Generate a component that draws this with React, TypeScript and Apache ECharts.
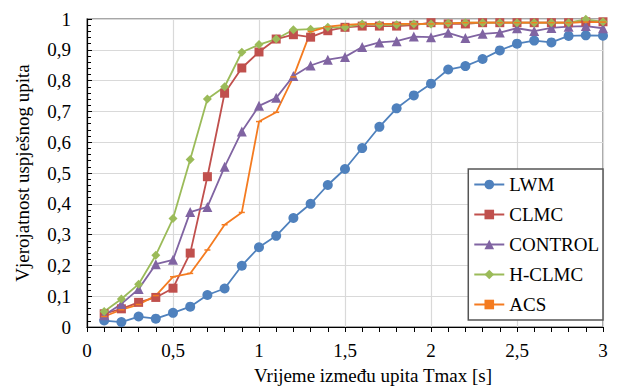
import React, { useEffect, useRef } from "react";
import * as echarts from "echarts";

const tmax = [0.1, 0.2, 0.3, 0.4, 0.5, 0.6, 0.7, 0.8, 0.9, 1.0, 1.1, 1.2, 1.3, 1.4, 1.5, 1.6, 1.7, 1.8, 1.9, 2.0, 2.1, 2.2, 2.3, 2.4, 2.5, 2.6, 2.7, 2.8, 2.9, 3.0];

const lwm = [0.021, 0.016, 0.034, 0.027, 0.046, 0.066, 0.104, 0.125, 0.199, 0.259, 0.296, 0.354, 0.4, 0.461, 0.513, 0.581, 0.65, 0.71, 0.752, 0.79, 0.836, 0.847, 0.87, 0.898, 0.92, 0.93, 0.924, 0.945, 0.947, 0.946];
const clmc = [0.043, 0.059, 0.08, 0.096, 0.126, 0.24, 0.488, 0.759, 0.841, 0.893, 0.935, 0.949, 0.941, 0.962, 0.973, 0.977, 0.977, 0.977, 0.98, 0.988, 0.984, 0.984, 0.988, 0.988, 0.988, 0.988, 0.988, 0.988, 0.991, 0.991];
const control = [0.038, 0.075, 0.123, 0.204, 0.218, 0.373, 0.39, 0.52, 0.635, 0.718, 0.744, 0.815, 0.849, 0.868, 0.877, 0.909, 0.924, 0.928, 0.943, 0.941, 0.955, 0.938, 0.952, 0.956, 0.97, 0.961, 0.971, 0.975, 0.977, 0.97];
const hclmc = [0.05, 0.091, 0.139, 0.233, 0.352, 0.544, 0.74, 0.78, 0.892, 0.917, 0.935, 0.965, 0.967, 0.973, 0.973, 0.984, 0.981, 0.981, 0.984, 0.984, 0.986, 0.988, 0.988, 0.988, 0.988, 0.988, 0.988, 0.988, 0.999, 0.991];
const acs = [0.034, 0.056, 0.073, 0.102, 0.163, 0.174, 0.25, 0.332, 0.372, 0.667, 0.697, 0.812, 0.959, 0.975, 0.981, 0.984, 0.984, 0.984, 0.984, 0.984, 0.986, 0.988, 0.988, 0.988, 0.988, 0.988, 0.988, 0.988, 0.99, 0.99];

const seriesNames = ["LWM", "CLMC", "CONTROL", "H-CLMC", "ACS"];
const xTitle = "Vrijeme između upita Tmax [s]";
const yTitle = "Vjerojatnost uspješnog upita";

const FONT = "Times New Roman, Liberation Serif, serif";
const FS = 19;

const fmt = (v: number) => String(Math.round(v * 10) / 10).replace(".", ",");

export default function App() {
  const ref = useRef<HTMLDivElement>(null);
  useEffect(() => {
    if (!ref.current) return;
    const chart = echarts.init(ref.current, undefined, { renderer: "svg" });
    const pair = (ys: number[]) => tmax.map((x, i) => [x, ys[i]]);
    const mk = (name: string, data: number[], color: string, symbol: string, size: any) => ({
      name,
      type: "line",
      data: pair(data),
      symbol,
      symbolSize: size,
      showSymbol: true,
      lineStyle: { color, width: 1.8 },
      itemStyle: { color, borderWidth: 0 },
      emphasis: { disabled: true },
    });
    chart.setOption({
      animation: false,
      backgroundColor: "#ffffff",
      textStyle: { fontFamily: FONT },
      grid: {
        left: 87,
        right: 14,
        top: 19,
        bottom: 60,
        show: true,
        borderColor: "#8a8a8a",
        borderWidth: 1.5,
        backgroundColor: "transparent",
      },
      legend: {
        orient: "vertical",
        right: 14,
        top: 169,
        backgroundColor: "#ffffff",
        borderColor: "#555555",
        borderWidth: 1.5,
        padding: [6, 4, 6, 5],
        itemWidth: 30,
        itemHeight: 12,
        itemGap: 11,
        textStyle: { fontFamily: FONT, fontSize: FS, color: "#000" },
        data: seriesNames,
      },
      xAxis: {
        type: "value",
        min: 0,
        max: 3,
        interval: 0.5,
        name: xTitle,
        nameLocation: "middle",
        nameGap: 39,
        nameTextStyle: { fontFamily: FONT, fontSize: FS, color: "#000", padding: [0, 0, 0, 56] },
        axisLine: { show: true, lineStyle: { color: "#000", width: 1.2 } },
        axisTick: { show: true, inside: false, length: 5, lineStyle: { color: "#000" } },
        minorTick: { show: true, splitNumber: 5, length: 5, lineStyle: { color: "#000" } },
        splitLine: { show: true, lineStyle: { color: "#d9d9d9", width: 1.2 } },
        axisLabel: { fontFamily: FONT, fontSize: FS, color: "#000", margin: 14, formatter: fmt },
      },
      yAxis: {
        type: "value",
        min: 0,
        max: 1,
        interval: 0.1,
        name: yTitle,
        nameLocation: "middle",
        nameGap: 55,
        nameTextStyle: { fontFamily: FONT, fontSize: FS, color: "#000" },
        axisLine: { show: true, lineStyle: { color: "#000", width: 1.2 } },
        axisTick: { show: true, inside: true, length: 5, lineStyle: { color: "#000" } },
        minorTick: { show: true, splitNumber: 5, length: 4, lineStyle: { color: "#000" } },
        splitLine: { show: true, lineStyle: { color: "#d9d9d9", width: 1.2 } },
        axisLabel: { fontFamily: FONT, fontSize: FS, color: "#000", margin: 16, formatter: fmt },
      },
      series: [
        mk("LWM", lwm, "#4f81bd", "circle", 10),
        mk("CLMC", clmc, "#c0504d", "rect", 9),
        mk("CONTROL", control, "#8064a2", "triangle", 10),
        mk("H-CLMC", hclmc, "#9bbb59", "diamond", 9),
        mk("ACS", acs, "#f47b20", "rect", [6, 1.5]),
      ],
    });
    return () => chart.dispose();
  }, []);
  return <div ref={ref} style={{ position: "absolute", left: 0, top: 0, width: 617, height: 390 }} />;
}
